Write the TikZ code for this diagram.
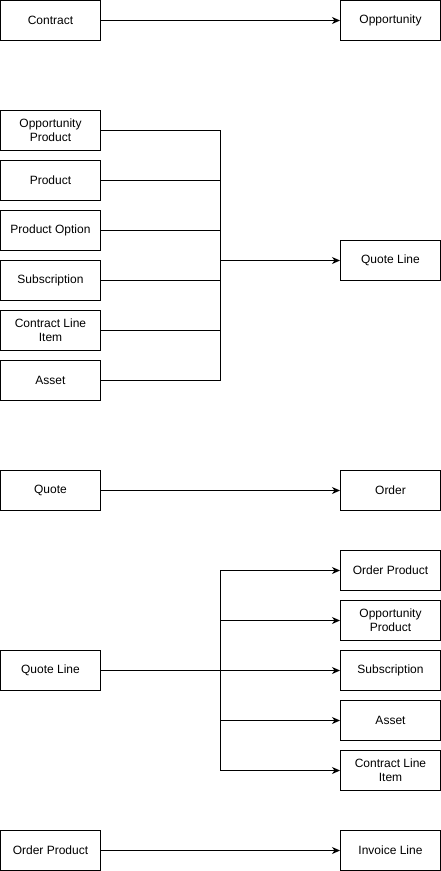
\documentclass[tikz,border=0pt]{standalone}
\usepackage{fontspec}
\setmainfont{Liberation Sans}
\usetikzlibrary{arrows.meta}
\begin{document}
\begin{tikzpicture}[x=1pt,y=-1pt,
  box/.style={draw=black,line width=1pt,minimum width=100pt,minimum height=40pt,inner sep=0pt,align=center,font=\fontsize{12}{14}\selectfont},
  conn/.style={draw=black,line width=1pt},
  arr/.style={conn,-{Stealth[length=8pt,width=7pt,inset=2.5pt]}}]
\useasboundingbox (0,0) rectangle (441,871);
% row 1
\node[box] (contract) at (50.5,20.5) {Contract};
\node[box] (opp) at (390.5,20.5) {Opportunity};
\draw[arr] (contract.east) -- (opp.west);
% group 2
\node[box] (oppprod) at (50.5,130.5) {Opportunity\\Product};
\node[box] (prod) at (50.5,180.5) {Product};
\node[box] (prodopt) at (50.5,230.5) {Product Option};
\node[box] (subs) at (50.5,280.5) {Subscription};
\node[box] (cli) at (50.5,330.5) {Contract Line\\Item};
\node[box] (asset) at (50.5,380.5) {Asset};
\node[box] (ql) at (390.5,260.5) {Quote Line};
\coordinate (j1) at (220.5,260.5);
\foreach \n in {oppprod,prod,prodopt,subs,cli,asset}
  \draw[conn] (\n.east) -| (j1);
\draw[arr] (j1) -- (ql.west);
% row 3
\node[box] (quote) at (50.5,490.5) {Quote};
\node[box] (order) at (390.5,490.5) {Order};
\draw[arr] (quote.east) -- (order.west);
% group 4
\node[box] (qlb) at (50.5,670.5) {Quote Line};
\node[box] (ordprod) at (390.5,570.5) {Order Product};
\node[box] (oppprodb) at (390.5,620.5) {Opportunity\\Product};
\node[box] (subsb) at (390.5,670.5) {Subscription};
\node[box] (assetb) at (390.5,720.5) {Asset};
\node[box] (clib) at (390.5,770.5) {Contract Line\\Item};
\coordinate (j2) at (220.5,670.5);
\draw[conn] (qlb.east) -- (j2);
\foreach \n in {ordprod,oppprodb,subsb,assetb,clib}
  \draw[arr] (j2) |- (\n.west);
% row 5
\node[box] (ordprodc) at (50.5,850.5) {Order Product};
\node[box] (inv) at (390.5,850.5) {Invoice Line};
\draw[arr] (ordprodc.east) -- (inv.west);
\end{tikzpicture}
\end{document}
